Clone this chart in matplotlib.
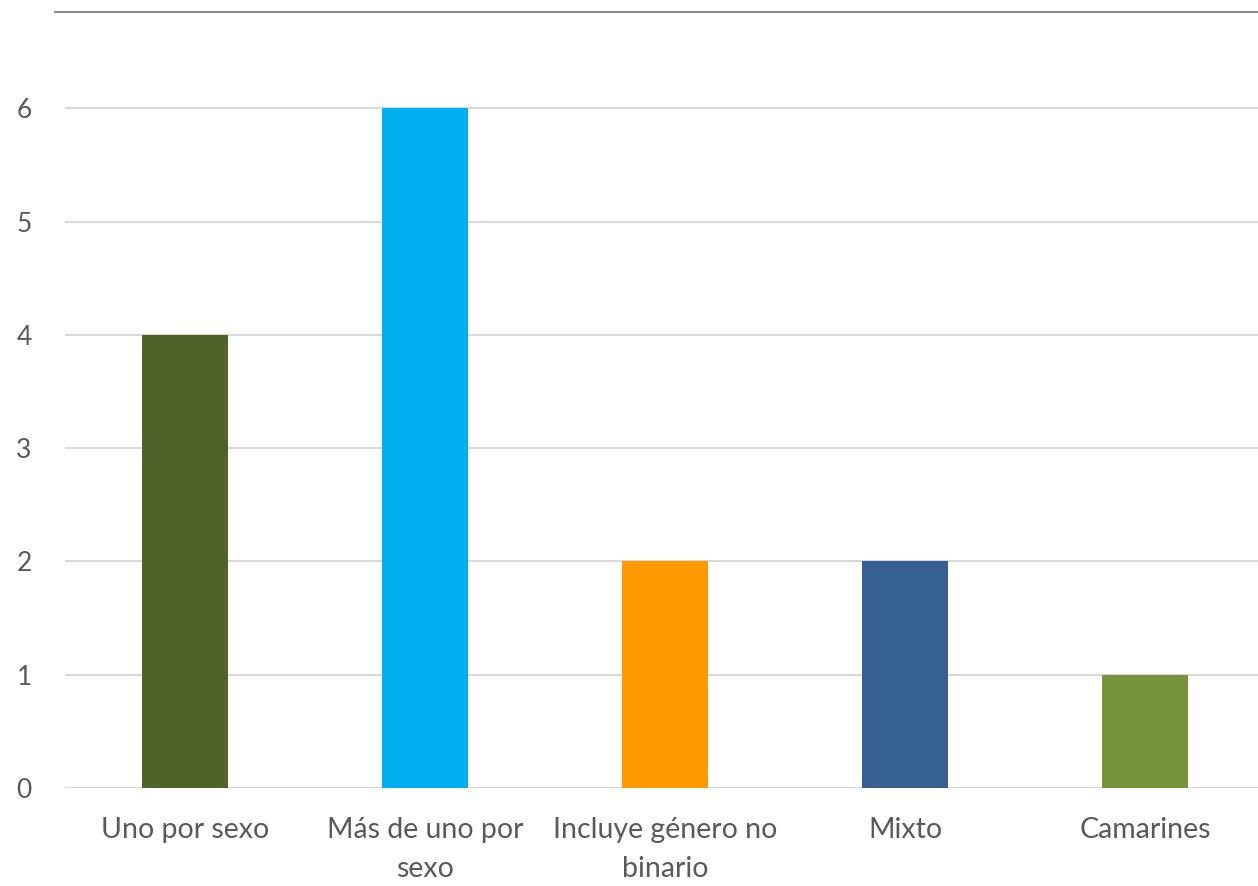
import matplotlib.pyplot as plt
from matplotlib.lines import Line2D

categories = ['Uno por sexo', 'Más de uno por\nsexo', 'Incluye género no\nbinario', 'Mixto', 'Camarines']
values = [4, 6, 2, 2, 1]
colors = ['#4F6228', '#00B0F0', '#FF9900', '#366092', '#77933C']
yticks = [0, 1, 2, 3, 4, 5, 6]

plt.rcParams['font.family'] = ['Lato', 'DejaVu Sans']

fig = plt.figure(figsize=(12.58, 8.86), dpi=100)
# axes: x from 65px to ~1265px, y from 788px (0) upward, 113.3px per unit
ax = fig.add_axes([65 / 1258, 98 / 886, 1200 / 1258, (788 - 60) / 886])
ax.set_xlim(-0.5, 4.5)
ax.set_ylim(0, 728 / 113.3)

x = range(len(categories))
ax.bar(x, values, width=0.355, color=colors, zorder=3)

ax.set_yticks(yticks)
ax.set_yticklabels([str(t) for t in yticks], fontsize=19, color='#595959')
ax.set_xticks(list(x))
ax.set_xticklabels(categories, fontsize=20.5, color='#595959', linespacing=1.6)
ax.tick_params(axis='both', length=0)
ax.tick_params(axis='y', pad=24)
ax.tick_params(axis='x', pad=21)

ax.grid(axis='y', color='#D9D9D9', linewidth=1.5, zorder=0)
for s in ax.spines.values():
    s.set_visible(False)

# grey border line at the top of the picture
fig.add_artist(Line2D([55 / 1258, 1.0], [1 - 12 / 886, 1 - 12 / 886], color='#8C8C8C', linewidth=1.5))

fig.savefig('out.png', dpi=100)
